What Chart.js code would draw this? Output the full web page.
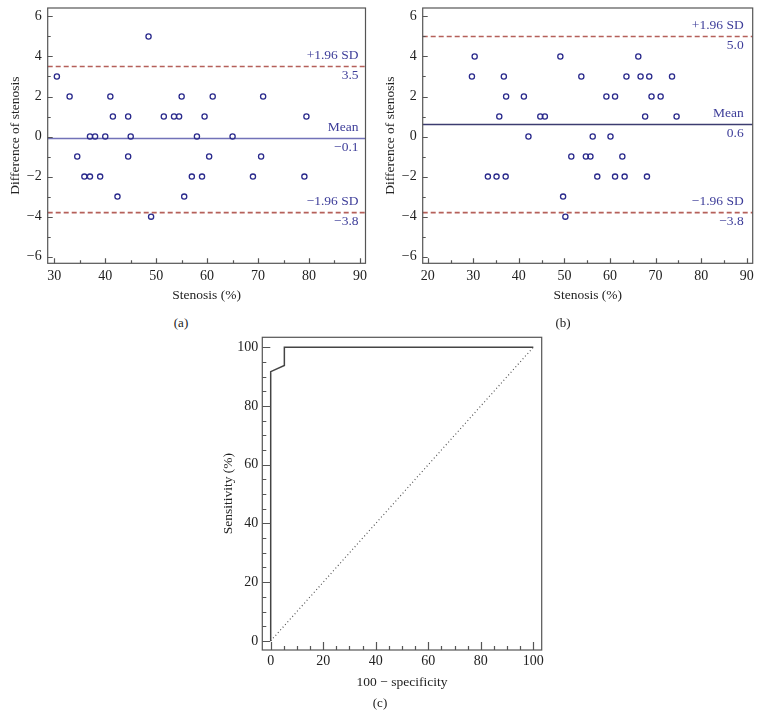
<!DOCTYPE html>
<html>
<head>
<meta charset="utf-8">
<script src="https://cdn.jsdelivr.net/npm/chart.js@4"></script>
<style>
  body { margin: 0; background: #fff; width: 762px; height: 721px; position: relative; overflow: hidden; }
  canvas { position: absolute; }
  .cap { position: absolute; font-family: 'Liberation Serif', 'DejaVu Serif', serif; font-size: 13px; color: #222; transform: translate(-50%, -50%); }
</style>
</head>
<body>
<canvas id="chart-a" width="380" height="310" style="left:0;top:0"></canvas>
<canvas id="chart-b" width="382" height="310" style="left:380px;top:0"></canvas>
<canvas id="chart-c" width="360" height="390" style="left:200px;top:310px"></canvas>
<div class="cap" style="left:181px;top:323px">(a)</div>
<div class="cap" style="left:563px;top:323px">(b)</div>
<div class="cap" style="left:380px;top:703px">(c)</div>
<script>
// (a) Bland-Altman points
const aStenosis = [30.5, 33.0, 34.5, 35.9, 37.0, 37.0, 38.0, 39.0, 40.0, 41.0, 41.5, 42.4, 44.5, 44.5, 45.0,
    48.5, 49.0, 51.5, 53.5, 54.5, 55.0, 55.5, 57.0, 58.0, 59.0, 59.5, 60.4, 61.1, 65.0, 69.0, 70.6, 71.0, 79.1, 79.5];
const aDiff = [3, 2, -1, -2, 0, -2, 0, -2, 0, 2, 1, -3, 1, -1, 0,
    5, -4, 1, 1, 1, 2, -3, -2, 0, -2, 1, -1, 2, 0, -2, -1, 2, -2, 1];
const aLimits = [3.5, -0.1, -3.8];

// (b) Bland-Altman points
const bStenosis = [29.7, 30.3, 33.2, 35.1, 35.7, 36.7, 37.1, 37.2, 41.1, 42.1, 44.7, 45.7, 49.1, 49.7, 50.2,
    51.5, 53.7, 54.7, 55.7, 56.2, 57.2, 59.2, 60.1, 61.1, 61.1, 62.7, 63.2, 63.6, 66.2, 66.7, 67.7, 68.1,
    68.6, 69.1, 71.1, 73.6, 74.6];
const bDiff = [3, 4, -2, -2, 1, 3, -2, 2, 2, 0, 1, 1, 4, -3, -4,
    -1, 3, -1, -1, 0, -2, 2, 0, -2, 2, -1, -2, 3, 4, 3, 1, -2,
    3, 2, 2, 3, 1];
const bLimits = [5.0, 0.6, -3.8];

const limitNames = ['+1.96 SD', 'Mean', '\u22121.96 SD'];

// (c) ROC curve
const rocX = [0, 0, 5.2, 5.2, 100];
const rocY = [0, 91.7, 93.8, 100, 100];
const chanceX = [0, 100];
const chanceY = [0, 100];

// tick values
const diffMajor = [-6, -4, -2, 0, 2, 4, 6];
const diffMinor = [-5, -3, -1, 1, 3, 5];
const aMajorX = [30, 40, 50, 60, 70, 80, 90];
const aMinorX = [35, 45, 55, 65, 75, 85];
const bMajorX = [20, 30, 40, 50, 60, 70, 80, 90];
const bMinorX = [25, 35, 45, 55, 65, 75, 85];
const rocMajor = [0, 20, 40, 60, 80, 100];
const rocMinor = [5, 10, 15, 25, 30, 35, 45, 50, 55, 65, 70, 75, 85, 90, 95];

const serif = "'Liberation Serif', 'DejaVu Serif', serif";
const minus = v => String(v).replace('-', '\u2212');
const pts = (xs, ys) => xs.map((x, i) => ({x: x, y: ys[i]}));

// frame, inward ticks and limit lines
function decorPlugin(o) {
    return {
        id: 'decor',
        beforeDatasetsDraw(chart) {
            if (!o.limits) return;
            const ctx = chart.ctx, area = chart.chartArea, ys = chart.scales.y;
            ctx.save();
            o.limits.forEach((v, i) => {
                const y = ys.getPixelForValue(v);
                ctx.beginPath();
                ctx.lineWidth = 1.6;
                if (i === 1) {
                    ctx.setLineDash([]);
                    ctx.strokeStyle = o.meanColor;
                } else {
                    ctx.setLineDash([5, 3]);
                    ctx.strokeStyle = '#b5605a';
                }
                ctx.moveTo(area.left, y);
                ctx.lineTo(area.right, y);
                ctx.stroke();
                ctx.setLineDash([]);
                ctx.fillStyle = '#3d3d99';
                ctx.font = '13.5px ' + serif;
                ctx.textAlign = 'right';
                ctx.textBaseline = 'middle';
                ctx.fillText(limitNames[i], area.right - o.inset, y - 11);
                ctx.fillText(minus(v.toFixed(1)), area.right - o.inset, y + 9);
            });
            ctx.restore();
        },
        afterDraw(chart) {
            const ctx = chart.ctx, a = chart.chartArea;
            const xs = chart.scales.x, ys = chart.scales.y;
            ctx.save();
            ctx.strokeStyle = '#555';
            ctx.lineWidth = 1.2;
            ctx.strokeRect(a.left, a.top, a.right - a.left, a.bottom - a.top);
            ctx.beginPath();
            const tick = (vals, len, horiz) => vals.forEach(v => {
                if (horiz) {
                    const x = Math.round(xs.getPixelForValue(v)) + 0.5;
                    ctx.moveTo(x, a.bottom);
                    ctx.lineTo(x, a.bottom - len);
                } else {
                    const y = Math.round(ys.getPixelForValue(v)) + 0.5;
                    ctx.moveTo(a.left, y);
                    ctx.lineTo(a.left + len, y);
                }
            });
            tick(o.xMajor, o.major, true);
            tick(o.xMinor, o.minor, true);
            tick(o.yMajor, o.major, false);
            tick(o.yMinor, o.minor, false);
            ctx.stroke();
            ctx.restore();
        }
    };
}

function axis(cfg) {
    return {
        type: 'linear',
        min: cfg.min,
        max: cfg.max,
        grid: {display: false, drawTicks: false},
        border: {display: false},
        afterBuildTicks: s => { s.ticks = cfg.ticks.map(v => ({value: v})); },
        afterFit: s => {
            if (cfg.width) s.width = cfg.width;
            if (cfg.height) s.height = cfg.height;
            s.paddingTop = 0;
            s.paddingBottom = 0;
            s.paddingLeft = 0;
            s.paddingRight = 0;
        },
        ticks: {
            padding: cfg.pad,
            color: '#222',
            font: {family: serif, size: 14},
            callback: v => minus(v)
        },
        title: {
            display: true,
            text: cfg.title,
            color: '#222',
            font: {family: serif, size: 13.5},
            padding: cfg.titlePad
        }
    };
}

function blandAltman(id, xs, ys, limits, xr, majorX, minorX, yWidth, rightPad, yTitlePad, meanColor, inset) {
    return new Chart(document.getElementById(id), {
        type: 'scatter',
        data: {
            datasets: [{
                data: pts(xs, ys),
                pointStyle: 'circle',
                pointRadius: 2.6,
                pointBorderWidth: 1.3,
                borderColor: '#2a2a8c',
                backgroundColor: 'rgba(0,0,0,0)'
            }]
        },
        options: {
            responsive: false,
            animation: false,
            devicePixelRatio: 1,
            layout: {padding: {top: 8, right: rightPad, left: 0, bottom: 0}},
            plugins: {legend: {display: false}, tooltip: {enabled: false}},
            scales: {
                x: axis({min: xr[0], max: xr[1], ticks: majorX, height: 46.7, pad: 5,
                    title: 'Stenosis (%)', titlePad: {top: 0, bottom: 6}}),
                y: axis({min: -6.33, max: 6.42, ticks: diffMajor, width: yWidth, pad: 6,
                    title: 'Difference of stenosis', titlePad: {top: yTitlePad, bottom: 0}})
            }
        },
        plugins: [decorPlugin({limits: limits, meanColor: meanColor, inset: inset,
            xMajor: majorX, xMinor: minorX, yMajor: diffMajor, yMinor: diffMinor, major: 5, minor: 3})]
    });
}

blandAltman('chart-a', aStenosis, aDiff, aLimits, [28.7, 91.1], aMajorX, aMinorX, 47.7, 14.5, 7, '#7272b8', 7);
blandAltman('chart-b', bStenosis, bDiff, bLimits, [18.9, 91.3], bMajorX, bMinorX, 42.7, 9.3, 2, '#3c3c70', 9);

new Chart(document.getElementById('chart-c'), {
    type: 'scatter',
    data: {
        datasets: [
            {
                data: pts(rocX, rocY),
                showLine: true,
                pointRadius: 0,
                borderColor: '#444',
                borderWidth: 1.5,
                fill: false
            },
            {
                data: pts(chanceX, chanceY),
                showLine: true,
                pointRadius: 0,
                borderColor: '#555',
                borderWidth: 1.2,
                borderDash: [1, 2.6],
                fill: false
            }
        ]
    },
    options: {
        responsive: false,
        animation: false,
        devicePixelRatio: 1,
        layout: {padding: {top: 27.3, right: 18.3, left: 0, bottom: 0}},
        plugins: {legend: {display: false}, tooltip: {enabled: false}},
        scales: {
            x: axis({min: -3.2, max: 103.2, ticks: rocMajor, height: 50, pad: 2.5,
                title: '100 \u2212 specificity', titlePad: {top: 0, bottom: 9}}),
            y: axis({min: -3.1, max: 103.4, ticks: rocMajor, width: 62.3, pad: 4,
                title: 'Sensitivity (%)', titlePad: {top: 20, bottom: 0}})
        }
    },
    plugins: [decorPlugin({xMajor: rocMajor, xMinor: rocMinor, yMajor: rocMajor, yMinor: rocMinor, major: 8, minor: 4})]
});
</script>
</body>
</html>
